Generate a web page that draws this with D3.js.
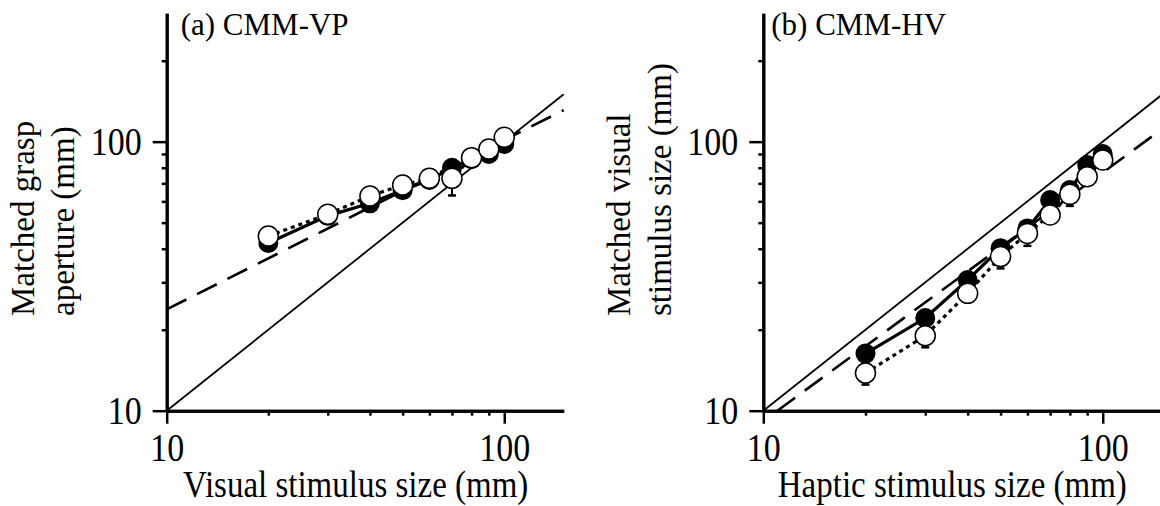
<!DOCTYPE html>
<html>
<head>
<meta charset="utf-8">
<script src="https://cdn.jsdelivr.net/npm/d3@7"></script>
<style>
  body { margin: 0; background: #fff; }
  svg { display: block; }
</style>
</head>
<body>
<div class="chart-container"></div>
<script>
// stimulus sizes (mm), same for both panels
var sizes = [20, 30, 40, 50, 60, 70, 80, 90, 100];

// (a) CMM-VP
var vpFilled = [42, 53, 59, 66, 72, 80, 86, 90, 98];
var vpFilledErr = [2, 2, 3, 3, 2, 3, 2, 3, 3];
var vpOpen = [44.6, 53.7, 62.8, 69.0, 73.1, 73.1, 87.2, 93.9, 103.8];
var vpOpenErr = [3, 2, 2, 2, 2, 10, 2, 2, 2];
var vpFit = [[10, 23.8], [150, 131]];

// (b) CMM-HV
var hvFilled = [16.3, 22.1, 30.6, 40.2, 47.6, 60.7, 66.1, 81.9, 90.0];
var hvFilledErr = [1, 1.2, 1.5, 2, 2.5, 3, 3, 4, 4];
var hvOpen = [13.8, 19.0, 27.3, 37.4, 45.6, 53.4, 63.7, 74.1, 85.5];
var hvOpenErr = [1.3, 1.8, 2, 3.6, 4.6, 3, 6, 4, 3];
var hvFit = [[11, 10], [150, 111.7]];

var identity = [[10, 10], [150, 150]];
var xDomain = [10, 150], yDomain = [10, 300];
var majorTicks = [10, 100];
var minorX = [20, 30, 40, 50, 60, 70, 80, 90];
var minorY = [20, 30, 40, 50, 60, 70, 80, 90, 200];

var width = 1160, height = 506;
var font = "'Liberation Serif', 'Times New Roman', serif";

var svg = d3.select("div.chart-container")
  .append("svg")
  .attr("width", width)
  .attr("height", height)
  .attr("font-family", font);

svg.append("rect").attr("width", width).attr("height", height).attr("fill", "#fff");

drawPanel({
  left: 166.7, right: 563.7, title: "(a) CMM-VP", titleDx: 14,
  yLabel: ["Matched grasp", "aperture (mm)"],
  xLabel: "Visual stimulus size (mm)",
  filled: vpFilled, filledErr: vpFilledErr,
  open: vpOpen, openErr: vpOpenErr, fit: vpFit
});

drawPanel({
  left: 763.3, right: 1162.5, title: "(b) CMM-HV", titleDx: 8,
  yLabel: ["Matched visual", "stimulus size (mm)"],
  xLabel: "Haptic stimulus size (mm)",
  filled: hvFilled, filledErr: hvFilledErr,
  open: hvOpen, openErr: hvOpenErr, fit: hvFit
});

function drawPanel(p) {
  var top = 13.3, bottom = 410.7;
  var x = d3.scaleLog().domain(xDomain).range([p.left, p.right]);
  var y = d3.scaleLog().domain(yDomain).range([bottom, top]);
  var g = svg.append("g");

  var line = d3.line()
    .x(function(d) { return x(d[0]); })
    .y(function(d) { return y(d[1]); });

  // unity line
  g.append("path").attr("d", line(identity))
    .attr("fill", "none").attr("stroke", "#000").attr("stroke-width", 1.8);

  // fitted line
  g.append("path").attr("d", line(p.fit))
    .attr("fill", "none").attr("stroke", "#000").attr("stroke-width", 2.6)
    .attr("stroke-dasharray", "22,12");

  var filledPts = sizes.map(function(s, i) { return [s, p.filled[i]]; });
  var openPts = sizes.map(function(s, i) { return [s, p.open[i]]; });

  g.append("path").attr("d", line(filledPts))
    .attr("fill", "none").attr("stroke", "#000").attr("stroke-width", 3.2);
  g.append("path").attr("d", line(openPts))
    .attr("fill", "none").attr("stroke", "#000").attr("stroke-width", 3.2)
    .attr("stroke-dasharray", "4,4");

  // lower error bars
  drawErrors(g, x, y, p.filled, p.filledErr);
  drawErrors(g, x, y, p.open, p.openErr);

  g.selectAll(".filled")
    .data(filledPts)
    .enter()
    .append("circle")
    .attr("class", "filled")
    .attr("cx", function(d) { return x(d[0]); })
    .attr("cy", function(d) { return y(d[1]); })
    .attr("r", 10)
    .attr("fill", "#000");

  g.selectAll(".open")
    .data(openPts)
    .enter()
    .append("circle")
    .attr("class", "open")
    .attr("cx", function(d) { return x(d[0]); })
    .attr("cy", function(d) { return y(d[1]); })
    .attr("r", 10)
    .attr("fill", "#fff")
    .attr("stroke", "#000")
    .attr("stroke-width", 1.5);

  // x axis
  var xMinor = g.append("g").attr("transform", "translate(0," + bottom + ")")
    .call(d3.axisBottom(x).tickValues(minorX).tickSize(5).tickSizeOuter(0).tickFormat(""));
  var xMajor = g.append("g").attr("transform", "translate(0," + bottom + ")")
    .call(d3.axisBottom(x).tickValues(majorTicks).tickSize(13).tickSizeOuter(0)
      .tickPadding(5.5).tickFormat(d3.format("d")));

  // y axis
  var yMinor = g.append("g").attr("transform", "translate(" + p.left + ",0)")
    .call(d3.axisLeft(y).tickValues(minorY).tickSize(5).tickSizeOuter(0).tickFormat(""));
  var yMajor = g.append("g").attr("transform", "translate(" + p.left + ",0)")
    .call(d3.axisLeft(y).tickValues(majorTicks).tickSize(14).tickSizeOuter(0)
      .tickPadding(11).tickFormat(d3.format("d")));

  [xMinor, xMajor, yMinor, yMajor].forEach(function(ax) {
    ax.attr("font-family", null).attr("font-size", null);
    ax.select(".domain").attr("stroke-width", 3);
    ax.selectAll(".tick line").attr("stroke-width", 2.5);
    ax.selectAll(".tick text")
      .attr("font-size", 34)
      .attr("fill", "#000")
      .attr("transform", "scale(1,1.18)");
  });

  // title
  g.append("text")
    .attr("x", p.left + p.titleDx)
    .attr("y", 35)
    .attr("font-size", 31)
    .text(p.title);

  // x label
  g.append("text")
    .attr("transform", "translate(" + (p.left + 189) + ",497) scale(1,1.15)")
    .attr("text-anchor", "middle")
    .attr("font-size", 33)
    .text(p.xLabel);

  // y label, two lines
  g.selectAll(".ylabel")
    .data(p.yLabel)
    .enter()
    .append("text")
    .attr("class", "ylabel")
    .attr("transform", function(d, i) {
      return "translate(" + (p.left - 133 + i * 40.5) + ",316) rotate(-90)";
    })
    .attr("font-size", 33)
    .text(function(d) { return d; });
}

function drawErrors(g, x, y, vals, errs) {
  sizes.forEach(function(s, i) {
    var cx = x(s), y0 = y(vals[i]), y1 = y(vals[i] - errs[i]);
    g.append("line").attr("x1", cx).attr("x2", cx).attr("y1", y0).attr("y2", y1)
      .attr("stroke", "#000").attr("stroke-width", 2);
    g.append("line").attr("x1", cx - 4).attr("x2", cx + 4).attr("y1", y1).attr("y2", y1)
      .attr("stroke", "#000").attr("stroke-width", 2.5);
  });
}
</script>
</body>
</html>
